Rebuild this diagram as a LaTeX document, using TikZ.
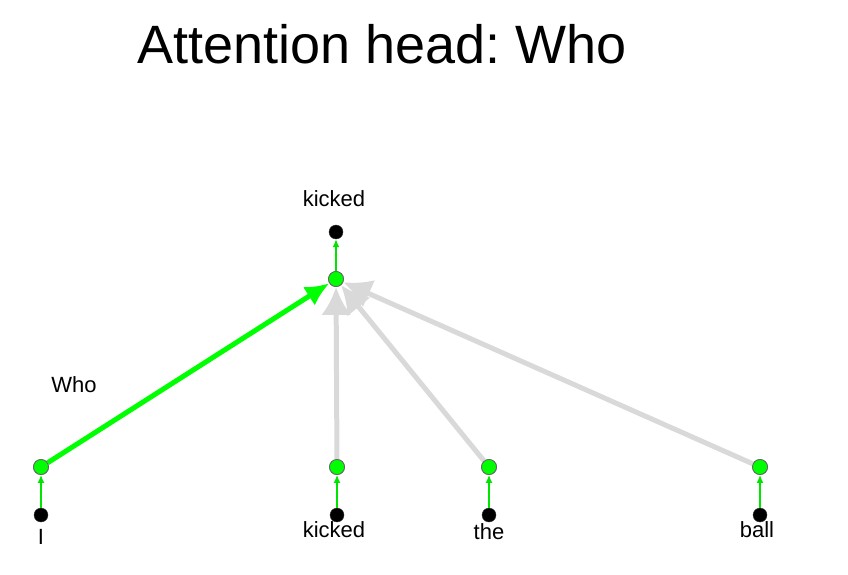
\documentclass[tikz,border=0pt]{standalone}
\usepackage{fontspec}
\setmainfont{Liberation Sans}
\usetikzlibrary{arrows.meta}
\frenchspacing

\tikzset{
    worddot/.style={circle, draw=black!80, fill=black, minimum size=14pt, inner sep=0pt},
    headdot/.style={circle, draw=black!60, fill=green, line width=0.8pt, minimum size=15pt, inner sep=0pt},
    wordlabel/.style={font=\fontsize{22}{26}\selectfont, inner sep=0pt},
    feed/.style={draw=green!90!black, line width=1.4pt, -{Latex[length=8pt, width=7pt]}},
    attend/.style={draw=black!15, line width=5pt, -{Latex[length=28pt, width=30pt]}},
    chosen/.style={draw=green, line width=5pt, -{Latex[length=24pt, width=22pt]}}
}

\begin{document}
\begin{tikzpicture}[x=1pt, y=-1pt]
        \useasboundingbox (0,0) rectangle (848,574);

        % Title --  --  --  --  --  --  --  --  --  --  --  --  --  --  --
        \node[font=\fontsize{54}{60}\selectfont, inner sep=0pt] (title) at (382, 44) {Attention head: Who};

        % Output word --  --  --  --  --  --  --  --  --  --  --  --  --  -
        \node[wordlabel] (outlabel) at (334, 199) {kicked};
        \node[worddot] (outword) at (336, 232) {};
        \node[headdot] (outhead) at (336, 279) {};

        % Input words --  --  --  --  --  --  --  --  --  --  --  --  --  -
        \node[worddot] (w1) at (41, 515) {};
        \node[worddot] (w2) at (337, 515) {};
        \node[worddot] (w3) at (489, 515) {};
        \node[worddot] (w4) at (760, 515) {};

        \node[headdot] (h1) at (41, 467) {};
        \node[headdot] (h2) at (337, 467) {};
        \node[headdot] (h3) at (489, 467) {};
        \node[headdot] (h4) at (760, 467) {};

        \node[wordlabel] (l1) at (41, 537) {I};
        \node[wordlabel] (l2) at (334, 530) {kicked};
        \node[wordlabel] (l3) at (489, 532) {the};
        \node[wordlabel] (l4) at (757, 530) {ball};
        %  --  --  --  --  --  --  --  --  --  --  --  --  --  --  --  --

        % Attention edges --  --  --  --  --  --  --  --  --  --  --  --
        \draw[attend] (h2) -- (outhead);
        \draw[attend] (h3) -- (outhead);
        \draw[attend] (h4) -- (outhead);
        \draw[chosen] (h1) -- (outhead);
        \node[wordlabel] (wholabel) at (74, 385) {Who};

        % Feeds from word to head
        \foreach \i in {1,...,4}
            \draw[feed] (w\i) -- (h\i);
        \draw[feed] (outhead) -- (outword);

        % redraw dots on top
        \node[headdot] at (outhead) {};
        \foreach \i in {1,...,4}
            \node[headdot] at (h\i) {};
        %  --  --  --  --  --  --  --  --  --  --  --  --  --  --  --  --
\end{tikzpicture}
\end{document}
